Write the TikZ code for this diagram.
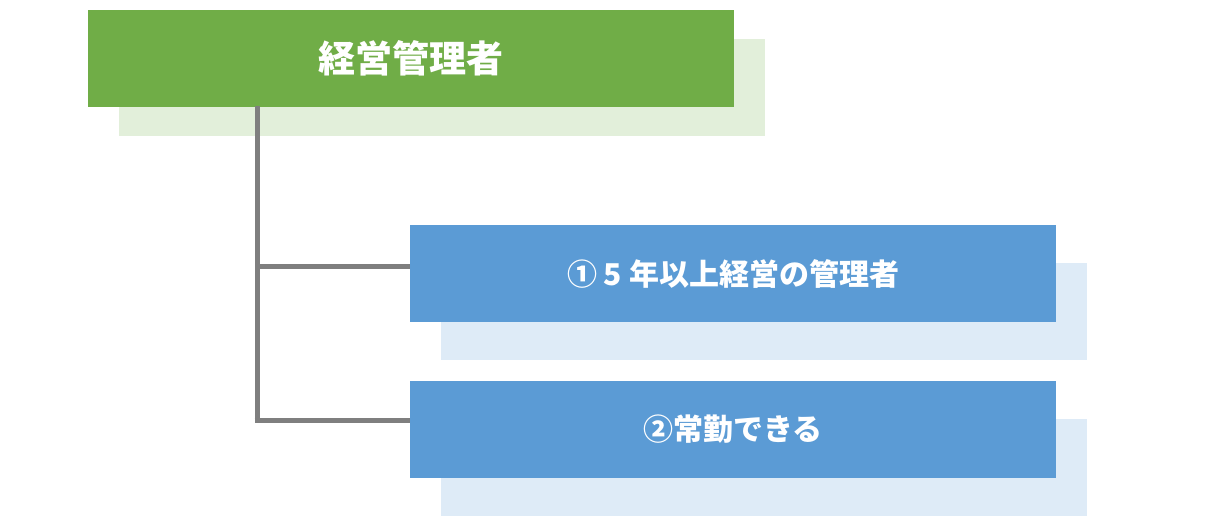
\documentclass[tikz,border=0pt]{standalone}
\usepackage{fontspec}
\setmainfont{Noto Sans CJK JP}
\definecolor{gmain}{HTML}{70AD47}
\definecolor{gshadow}{HTML}{E2EFDA}
\definecolor{bmain}{HTML}{5B9BD5}
\definecolor{bshadow}{HTML}{DEEBF7}
\definecolor{conn}{HTML}{7F7F7F}
\begin{document}
\begin{tikzpicture}[x=1pt,y=-1pt,
  box/.style={minimum width=646pt,minimum height=97pt,inner sep=0pt,text=white,font=\bfseries\fontsize{30}{36}\selectfont},
  sh/.style={minimum width=646pt,minimum height=97pt,inner sep=0pt},
  ln/.style={conn,line width=5pt}]
\useasboundingbox (0,0) rectangle (1232,528);
\node[sh,fill=gshadow] (s0) at (441.5,87) {};
\node[box,fill=gmain,font=\bfseries\fontsize{37}{44}\selectfont] (g) at (410.5,58) {経営管理者};
\node[sh,fill=bshadow] (s1) at (764,311) {};
\node[sh,fill=bshadow] (s2) at (764,467) {};
\node[box,fill=bmain] (b1) at (733,273.5) {① 5 年以上経営の管理者};
\node[box,fill=bmain] (b2) at (733,429.5) {②常勤できる};
\coordinate (t) at (257,106);
\coordinate (m1) at (257,266);
\coordinate (m2) at (257,420);
\draw[ln] (t) -- ([yshift=2.5pt]m2);
\draw[ln] (m1) -- (m1 -| b1.west);
\draw[ln] ([xshift=-2.5pt]m2) -- (m2 -| b2.west);
\end{tikzpicture}
\end{document}
